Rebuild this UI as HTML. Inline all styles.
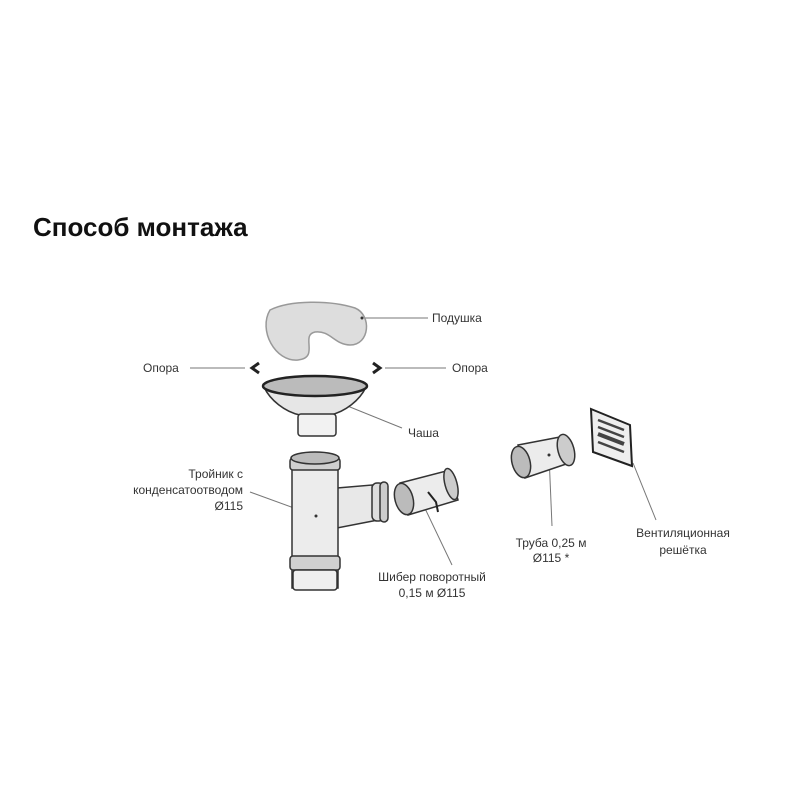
<!DOCTYPE html>
<html><head><meta charset="utf-8"><style>
body{margin:0;background:#fff}
svg{display:block}
text{font-family:"Liberation Sans",sans-serif;fill:#333;font-size:12px}
</style></head><body>
<svg width="800" height="800" viewBox="0 0 800 800">
<text x="33" y="236" style="font-size:26px;fill:#111;font-weight:600">Способ монтажа</text>
<g stroke="#777" stroke-width="1" fill="none">
<line x1="362" y1="318" x2="428" y2="318"/>
<line x1="190" y1="368" x2="245" y2="368"/>
<line x1="385" y1="368" x2="446" y2="368"/>
<line x1="345" y1="405" x2="402" y2="428"/>
<line x1="250" y1="492" x2="316" y2="516"/>
<line x1="420" y1="498" x2="452" y2="565"/>
<line x1="549" y1="455" x2="552" y2="526"/>
<line x1="633" y1="463" x2="656" y2="520"/>
</g>
<!-- pillow -->
<path d="M270,310 C290,300 330,300 355,308 C372,315 370,345 350,345 C335,345 330,330 315,332 C300,335 320,358 298,360 C275,362 258,330 270,310Z" fill="#ddd" stroke="#999" stroke-width="1.5"/>
<circle cx="362" cy="318" r="1.5" fill="#333"/>
<!-- chevrons -->
<path d="M259,363 L252,368 L259,373" stroke="#222" stroke-width="3" fill="none"/>
<path d="M373,363 L380,368 L373,373" stroke="#222" stroke-width="3" fill="none"/>
<!-- bowl -->
<path d="M264,387 C270,400 285,412 300,415 L330,415 C345,412 360,400 366,387Z" fill="#e6e6e6" stroke="#333" stroke-width="1.5"/>
<rect x="298" y="414" width="38" height="22" rx="3" fill="#f2f2f2" stroke="#333" stroke-width="1.5"/>
<ellipse cx="315" cy="386" rx="52" ry="10" fill="#bbb" stroke="#222" stroke-width="2.5"/>
<!-- tee -->
<g stroke="#333" stroke-width="1.5" fill="#e8e8e8">
<path d="M337,488 L372,485 L378,520 L337,528Z"/>
<rect x="372" y="483" width="12" height="38" rx="5" fill="#ddd"/>
<rect x="380" y="482" width="8" height="40" rx="4" fill="#ccc"/>
<rect x="292" y="458" width="46" height="130" fill="#ececec"/>
<rect x="290" y="556" width="50" height="14" rx="3" fill="#d0d0d0"/>
<rect x="293" y="570" width="44" height="20" rx="3" fill="#f0f0f0"/>
<rect x="290" y="458" width="50" height="12" rx="3" fill="#d0d0d0"/>
<ellipse cx="315" cy="458" rx="24" ry="6" fill="#bbb"/>
</g>
<circle cx="316" cy="516" r="1.5" fill="#333"/>
<!-- shiber -->
<g stroke="#333" stroke-width="1.5">
<path d="M400,483 L450,470 L458,500 L408,515Z" fill="#ececec"/>
<ellipse cx="451" cy="484" rx="6" ry="16" transform="rotate(-15 451 484)" fill="#ccc"/>
<ellipse cx="404" cy="499" rx="9" ry="16" transform="rotate(-15 404 499)" fill="#bbb"/>
</g>
<path d="M428,492 L436,502 L438,512" stroke="#222" stroke-width="2" fill="none"/>
<!-- truba -->
<g stroke="#333" stroke-width="1.5">
<path d="M518,445 L560,437 L572,462 L525,478Z" fill="#ececec"/>
<ellipse cx="566" cy="450" rx="8" ry="16" transform="rotate(-15 566 450)" fill="#ccc"/>
<ellipse cx="521" cy="462" rx="9" ry="16" transform="rotate(-15 521 462)" fill="#bbb"/>
</g>
<circle cx="549" cy="455" r="1.5" fill="#333"/>
<!-- grille -->
<path d="M591,409 L630,425 L632,466 L593,452Z" fill="#eee" stroke="#222" stroke-width="2"/>
<g stroke="#444" stroke-width="2.5">
<line x1="598" y1="420" x2="624" y2="430"/><line x1="598" y1="427" x2="624" y2="437"/>
<line x1="598" y1="434" x2="624" y2="444" stroke-width="4"/>
<line x1="598" y1="442" x2="624" y2="452"/>
</g>
<text x="432" y="322">Подушка</text>
<text x="143" y="372">Опора</text>
<text x="452" y="372">Опора</text>
<text x="408" y="437">Чаша</text>
<text x="243" y="478" text-anchor="end">Тройник с</text>
<text x="243" y="494" text-anchor="end">конденсатоотводом</text>
<text x="243" y="510" text-anchor="end">Ø115</text>
<text x="432" y="581" text-anchor="middle">Шибер поворотный</text>
<text x="432" y="597" text-anchor="middle">0,15 м Ø115</text>
<text x="551" y="547" text-anchor="middle">Труба 0,25 м</text>
<text x="551" y="562" text-anchor="middle">Ø115 *</text>
<text x="683" y="537" text-anchor="middle">Вентиляционная</text>
<text x="683" y="554" text-anchor="middle">решётка</text>
</svg>
</body></html>
